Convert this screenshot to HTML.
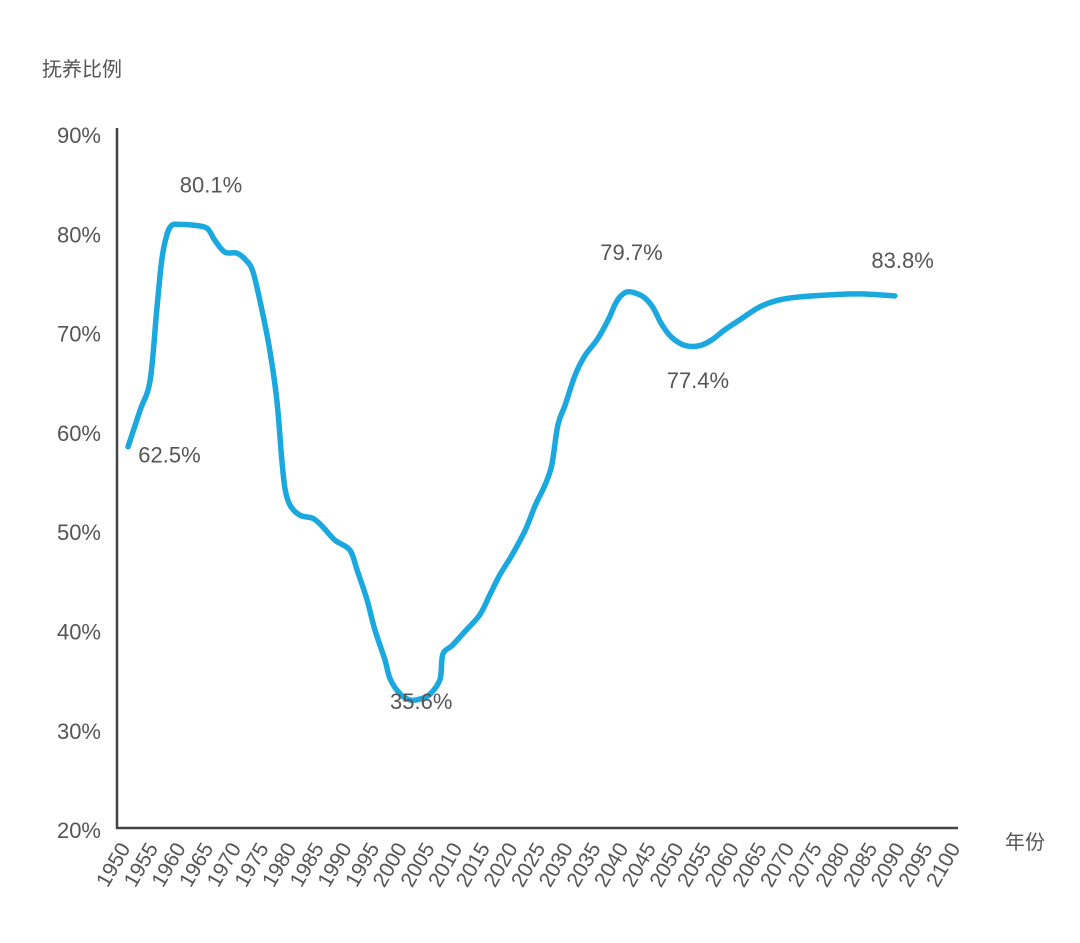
<!DOCTYPE html>
<html><head><meta charset="utf-8"><style>
body{margin:0;background:#fff;}
text{font-family:"Liberation Sans","Noto Sans CJK SC",sans-serif;fill:#555;}
</style></head><body>
<svg id="chart" width="1080" height="938">
<text x="42" y="76" font-size="20" fill="#333">抚养比例</text>
<text x="1005" y="849" font-size="20" fill="#333">年份</text>
<line x1="117" y1="128" x2="117" y2="829" stroke="#444" stroke-width="2.5"/>
<line x1="116" y1="828" x2="958" y2="828" stroke="#444" stroke-width="2.5"/>
<g id="yt"></g><g id="xt"></g><g id="ser"></g><g id="ann"></g>
</svg>
<script>
const yTicks=[20,30,40,50,60,70,80,90];
const xTicks=[1950,1955,1960,1965,1970,1975,1980,1985,1990,1995,2000,2005,2010,2015,2020,2025,2030,2035,2040,2045,2050,2055,2060,2065,2070,2075,2080,2085,2090,2095,2100];
const years=[1950,1952.2,1954,1955.2,1956.1,1957,1957.9,1959.4,1962.1,1964.3,1965.7,1967.5,1969.7,1971.3,1972.6,1974.2,1975.6,1976.9,1977.8,1978.4,1979.3,1981.1,1983.4,1985.1,1987.4,1990.1,1991.4,1993.2,1994.6,1996.4,1997.4,1999.2,2001,2002.8,2004.6,2006.4,2006.9,2008.6,2010.9,2013.6,2015.4,2017.2,2019.4,2021.8,2023.6,2025.4,2026.6,2027.7,2029,2030.8,2032.6,2034.8,2036.8,2038,2038.9,2040.2,2041.6,2043.4,2044.9,2046.5,2048.3,2050.7,2053.4,2055.6,2057.9,2060.6,2064.2,2067.8,2071.5,2076.9,2082.3,2088.6];
const ratio=[58.6,62.3,65.3,72.4,77.4,79.9,80.9,81.0,80.9,80.6,79.4,78.2,78.1,77.4,76.2,72.4,68.4,63.3,57.3,54.3,52.7,51.7,51.4,50.6,49.2,48.2,46.2,43.2,40.2,37.2,35.2,33.7,33.1,33.2,33.7,35.2,37.7,38.6,40.0,41.7,43.7,45.7,47.7,50.2,52.7,54.8,56.8,60.8,62.8,65.8,67.8,69.4,71.4,72.9,73.7,74.2,74.1,73.6,72.6,70.9,69.6,68.8,68.8,69.4,70.4,71.4,72.7,73.4,73.7,73.9,74.0,73.8];
const annLabels=["80.1%","62.5%","35.6%","79.7%","77.4%","83.8%"];
const annYears=[1965,1957.5,2003,2041,2053,2090];
const annVals=[84.2,57.0,32.2,77.4,64.5,76.6];
const NS="http://www.w3.org/2000/svg";
const X=y=>128+(y-1950)*5.533;
const Y=v=>135+(90-v)*9.93;
function mk(t,a,p){const e=document.createElementNS(NS,t);for(const k in a)e.setAttribute(k,a[k]);p.appendChild(e);return e;}
const yt=document.getElementById('yt');
yTicks.forEach(v=>{const t=mk('text',{x:101,y:Y(v)+8,'font-size':22,'text-anchor':'end'},yt);t.textContent=v+'%';

});
const xt=document.getElementById('xt');
xTicks.forEach(v=>{const x=X(v)+3;const t=mk('text',{x:x,y:848,'font-size':21,'text-anchor':'end',transform:`rotate(-60 ${x} 848)`},xt);t.textContent=v;

});
const pts=years.map((y,i)=>[X(y),Y(ratio[i])]);
let d='M'+pts[0][0]+','+pts[0][1];
for(let i=0;i<pts.length-1;i++){const p0=pts[Math.max(0,i-1)],p1=pts[i],p2=pts[i+1],p3=pts[Math.min(pts.length-1,i+2)];
d+=` C${p1[0]+(p2[0]-p0[0])/6},${p1[1]+(p2[1]-p0[1])/6} ${p2[0]-(p3[0]-p1[0])/6},${p2[1]-(p3[1]-p1[1])/6} ${p2[0]},${p2[1]}`;}
const line=mk('path',{d:d,fill:'none',stroke:'#1aa8df','stroke-width':5.5,'stroke-linecap':'round','stroke-linejoin':'round'},document.getElementById('ser'));


const ann=document.getElementById('ann');
annLabels.forEach((l,i)=>{const t=mk('text',{x:X(annYears[i]),y:Y(annVals[i]),'font-size':22,'text-anchor':'middle'},ann);t.textContent=l;

});
</script>
</body></html>
